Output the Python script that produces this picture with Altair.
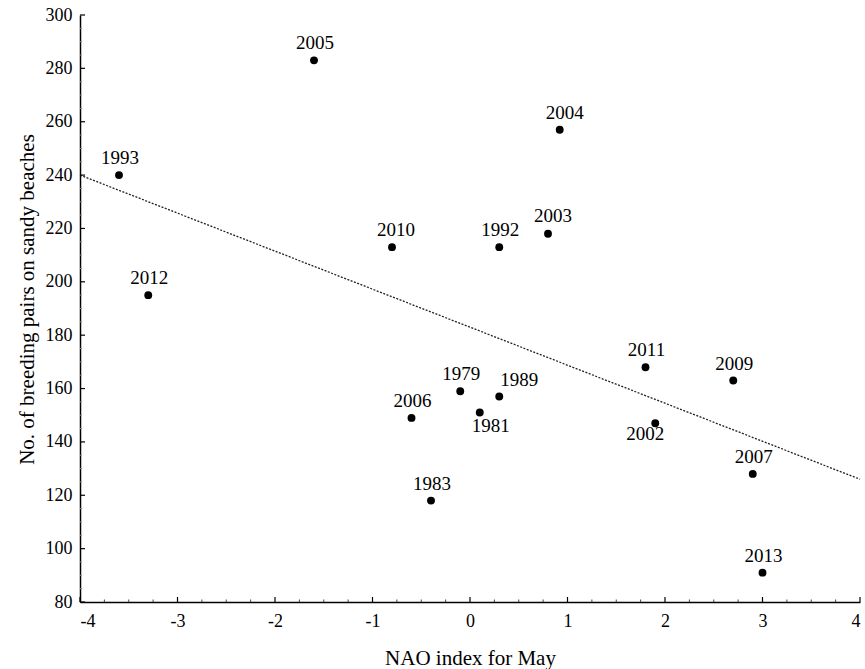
import altair as alt
import numpy as np
import pandas as pd

# Breeding pairs on sandy beaches against the May NAO index
years = ["1979", "1981", "1983", "1989", "1992", "1993", "2002", "2003", "2004",
         "2005", "2006", "2007", "2009", "2010", "2011", "2012", "2013"]
nao = [-0.1, 0.1, -0.4, 0.3, 0.3, -3.6, 1.9, 0.8, 0.92,
       -1.6, -0.6, 2.9, 2.7, -0.8, 1.8, -3.3, 3.0]
pairs = [159, 151, 118, 157, 213, 240, 147, 218, 257,
         283, 149, 128, 163, 213, 168, 195, 91]

# Fitted trend line end points
fit_x = [-4, 4]
fit_y = [240, 126]

# Axis ticks
x_ticks = [-4, -3, -2, -1, 0, 1, 2, 3, 4]
y_ticks = [80, 100, 120, 140, 160, 180, 200, 220, 240, 260, 280, 300]

# Label placement relative to each point (pixels, +x right, +y down)
label_nudge = {
    "1981": (11, 13), "2002": (-10, 11), "1989": (20, -17),
    "2004": (5, -17), "2003": (5, -18), "2010": (4, -17),
}

W, H = 780, 587
X_MIN, X_MAX, Y_MIN, Y_MAX = -4, 4, 80, 300
FONT = "Liberation Serif"

df = pd.DataFrame({"year": years, "nao": nao, "pairs": pairs})
df["dx"] = [label_nudge.get(y, (1, -17))[0] for y in years]
df["dy"] = [label_nudge.get(y, (1, -17))[1] for y in years]

x_scale = alt.Scale(domain=[X_MIN, X_MAX], nice=False, zero=False)
y_scale = alt.Scale(domain=[Y_MIN, Y_MAX], nice=False, zero=False)

x_enc = alt.X("nao:Q", scale=x_scale, title="NAO index for May",
              axis=alt.Axis(values=x_ticks, ticks=False, grid=False,
                            labelExpr="'' + datum.value",
                            labelPadding=10, titleY=62, titleBaseline="alphabetic"))
y_enc = alt.Y("pairs:Q", scale=y_scale, title="No. of breeding pairs on sandy beaches",
              axis=alt.Axis(values=y_ticks, ticks=False, grid=False,
                            labelExpr="'' + datum.value",
                            labelPadding=8, titleX=-47, titleY=284,
                            titleBaseline="alphabetic"))

points = alt.Chart(df).mark_circle(size=62, color="black", opacity=1).encode(
    x=x_enc, y=y_enc
)

# Shift the year labels by their pixel nudges, converted to data units
labels = alt.Chart(df).transform_calculate(
    lx=f"datum.nao + datum.dx * {(X_MAX - X_MIN) / W}",
    ly=f"datum.pairs - datum.dy * {(Y_MAX - Y_MIN) / H}",
).mark_text(
    font=FONT, fontSize=19, color="black", baseline="middle", align="center"
).encode(
    x=alt.X("lx:Q", scale=x_scale),
    y=alt.Y("ly:Q", scale=y_scale),
    text="year:N",
)

fit = alt.Chart(pd.DataFrame({"nao": fit_x, "pairs": fit_y})).mark_line(
    color="#222222", strokeWidth=1.3, strokeDash=[2, 1.5]
).encode(x=alt.X("nao:Q", scale=x_scale), y=alt.Y("pairs:Q", scale=y_scale))

# Inward tick marks along both axes
x_minor = [float(v) for v in np.arange(-4, 4.01, 0.25) if abs(v - round(v)) > 1e-6]
y_minor = [v for v in range(80, 301, 5) if v % 20 != 0]

xt_major = alt.Chart(pd.DataFrame({"v": x_ticks})).mark_rule(color="black", strokeWidth=1.2).encode(
    x=alt.X("v:Q", scale=x_scale), y=alt.value(H), y2=alt.value(H - 5))
xt_minor = alt.Chart(pd.DataFrame({"v": x_minor})).mark_rule(color="#444444", strokeWidth=1).encode(
    x=alt.X("v:Q", scale=x_scale), y=alt.value(H), y2=alt.value(H - 2.5))
yt_major = alt.Chart(pd.DataFrame({"v": y_ticks})).mark_rule(color="black", strokeWidth=1.2).encode(
    y=alt.Y("v:Q", scale=y_scale), x=alt.value(0), x2=alt.value(5))
yt_minor = alt.Chart(pd.DataFrame({"v": y_minor})).mark_rule(color="#888888", strokeWidth=1).encode(
    y=alt.Y("v:Q", scale=y_scale), x=alt.value(0), x2=alt.value(2))

chart = alt.layer(fit, xt_minor, yt_minor, xt_major, yt_major, points, labels).properties(
    width=W, height=H,
    background="white",
    autosize=alt.AutoSizeParams(type="none"),
    padding={"left": 80, "top": 15, "right": 5, "bottom": 67},
).configure_view(stroke=None).configure_axis(
    domainColor="black", domainWidth=1.5,
    labelFont=FONT, labelFontSize=18, labelColor="black",
    titleFont=FONT, titleFontSize=21, titleColor="black", titleFontWeight="normal",
)

chart.save("out.html", embed_options={"renderer": "svg", "actions": False})
